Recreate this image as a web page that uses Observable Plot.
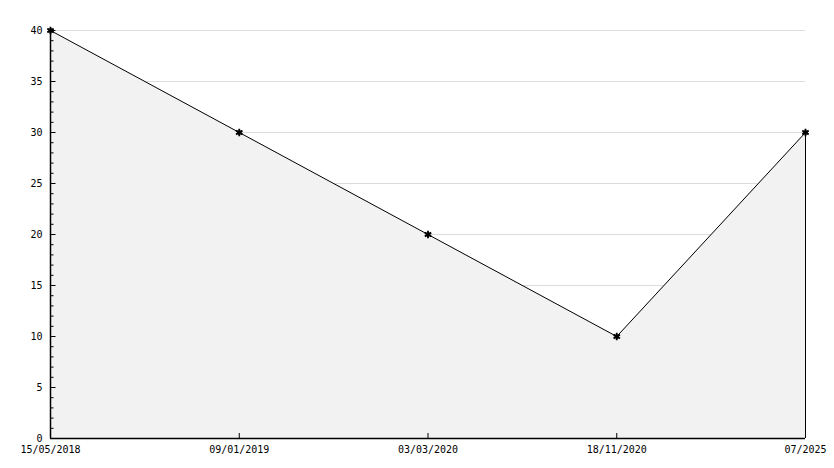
<!DOCTYPE html>
<html>
<head>
<meta charset="utf-8">
<script src="https://cdn.jsdelivr.net/npm/d3@7"></script>
<script src="https://cdn.jsdelivr.net/npm/@observablehq/plot@0.6"></script>
<style>
  html, body { margin: 0; padding: 0; background: #fff; }
  #chart svg { display: block; }
</style>
</head>
<body>
<div id="chart"></div>
<script>
const dates = ["15/05/2018", "09/01/2019", "03/03/2020", "18/11/2020", "07/2025"];
const values = [40, 30, 20, 10, 30];
const majorTicks = [0, 5, 10, 15, 20, 25, 30, 35, 40];
const gridTicks = [5, 10, 15, 20, 25, 30, 35, 40];
const minorTicks = d3.range(0, 41);

const data = dates.map((d, i) => ({date: d, value: values[i]}));
const font = "DejaVu Sans Mono, monospace";

const W = 834, H = 468, ML = 50, MR = 29, MT = 30, MB = 30;
const frameW = W - ML - MR, frameH = H - MT - MB;

const chart = Plot.plot({
  width: W,
  height: H,
  marginLeft: ML,
  marginRight: MR,
  marginTop: MT,
  marginBottom: MB,
  style: {fontFamily: font, fontSize: "10px", color: "#000", background: "#fff"},
  x: {type: "point", domain: dates, padding: 0, round: false, label: null, axis: null},
  y: {domain: [0, 40], label: null, axis: null},
  marks: [
    Plot.ruleY(gridTicks, {stroke: "#dcdcdc", strokeWidth: 1}),
    Plot.areaY(data, {x: "date", y: "value", fill: "#f2f2f2"}),
    Plot.ruleX([dates[dates.length - 1]], {y1: 0, y2: values[values.length - 1], stroke: "#000"}),
    Plot.line(data, {x: "date", y: "value", stroke: "#000", strokeWidth: 1}),
    Plot.tickY(minorTicks, {y: d => d, insetRight: frameW - 3.5, stroke: "#000"}),
    Plot.tickY(majorTicks, {y: d => d, insetRight: frameW - 5.5, stroke: "#000"}),
    Plot.tickX(dates, {x: d => d, insetTop: frameH - 5, stroke: "#000"}),
    Plot.ruleY([0], {stroke: "#000", strokeWidth: 1.5}),
    Plot.ruleX([dates[0]], {y1: 0, y2: 40, stroke: "#000", strokeWidth: 1.5}),
    Plot.axisY({anchor: "left", ticks: majorTicks, tickSize: 0, tickPadding: 8, fill: "#000", label: null, fontSize: 10}),
    Plot.axisX({anchor: "bottom", tickSize: 0, tickPadding: 7, fill: "#000", label: null, fontSize: 10}),
    Plot.dot(data, {x: "date", y: "value", symbol: "asterisk", r: 3.5, stroke: "#000", strokeWidth: 1.8}),
    Plot.dot(data, {x: "date", y: "value", r: 2.2, fill: "#000"})
  ]
});
document.getElementById("chart").appendChild(chart);
</script>
</body>
</html>
